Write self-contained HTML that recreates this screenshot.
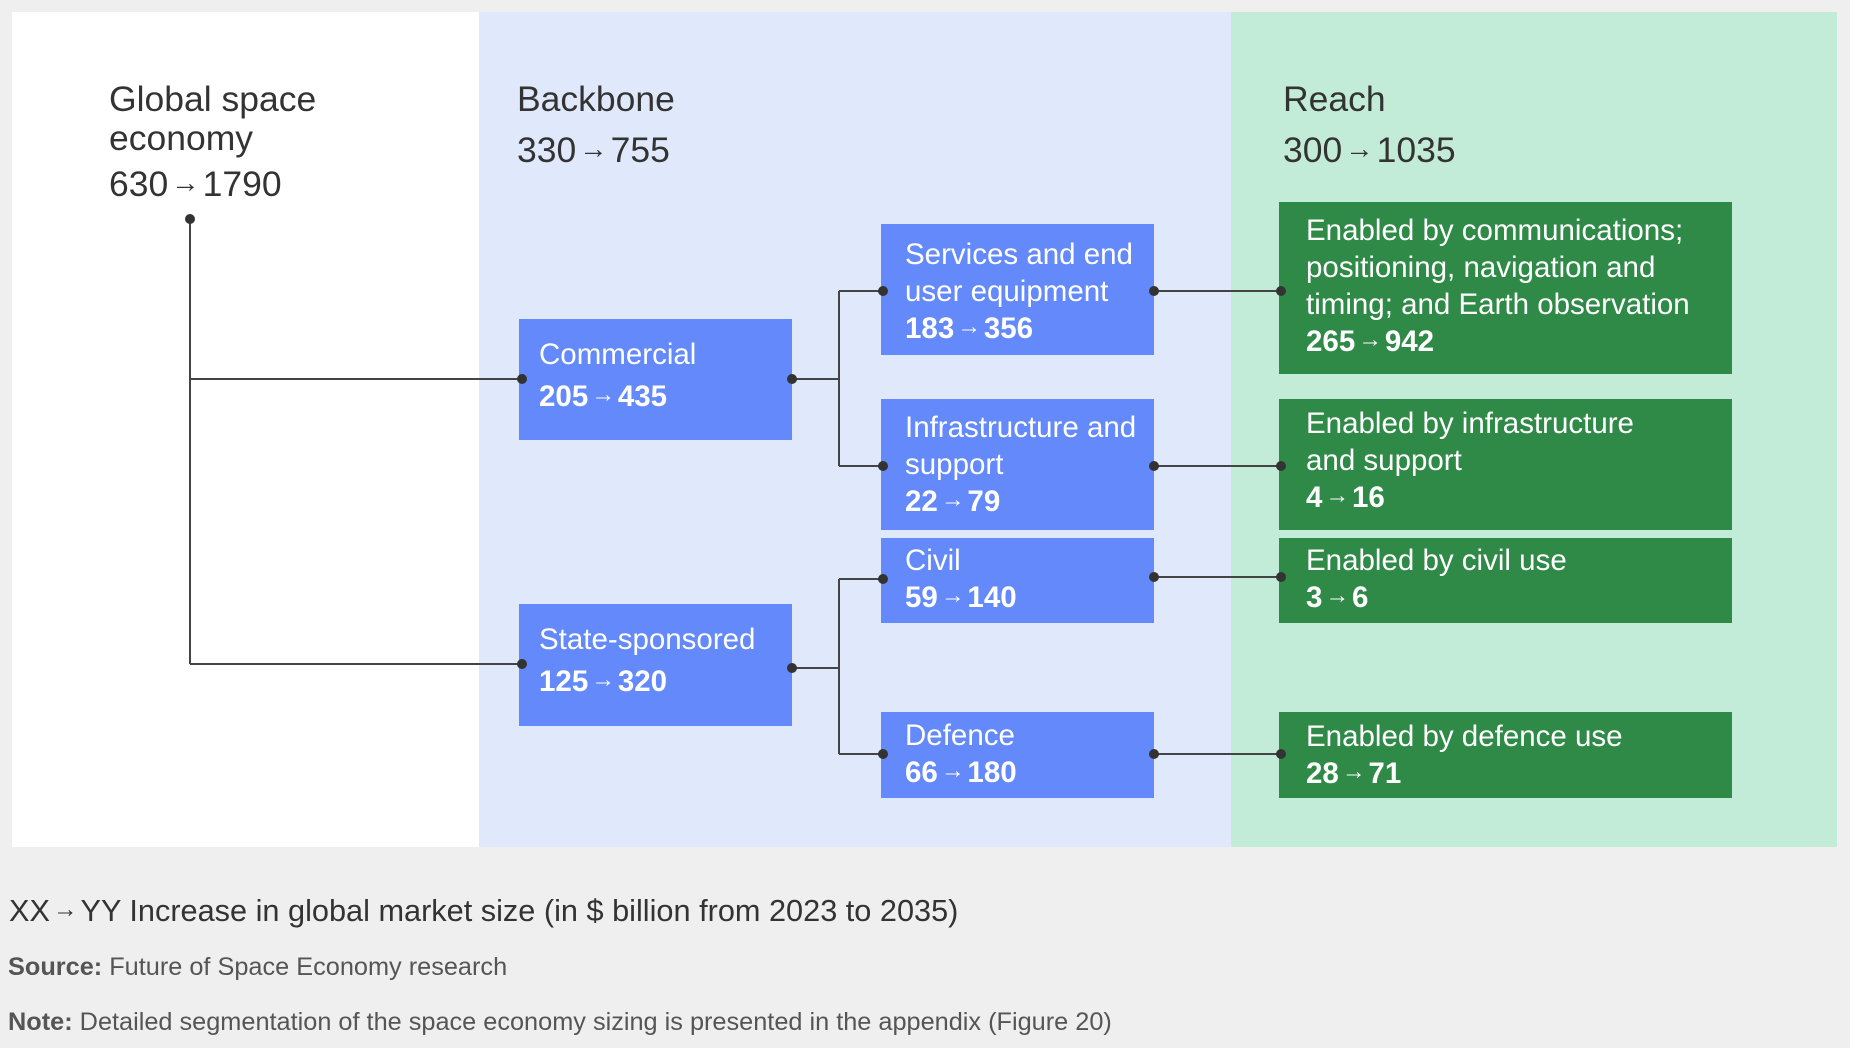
<!DOCTYPE html>
<html><head><meta charset="utf-8"><style>
body{margin:0;width:1850px;height:1048px;background:#efefef;position:relative;overflow:hidden;font-family:"Liberation Sans",sans-serif;}
.a{position:absolute}
.t{color:#333;font-size:35.5px;line-height:39px}
.box{position:absolute;color:#fff;font-size:29.5px;line-height:37px;padding:0 0 0 24px;box-sizing:border-box}
.b{background:#6389fb}
.g{background:#2f8a48}
.n{font-weight:bold}
.ar{font-size:0.8em;font-weight:normal;margin:0 3px;position:relative;top:-4px}
.dot{position:absolute;width:10px;height:10px;border-radius:50%;background:#333;margin:-5px 0 0 -5px}
svg{position:absolute;left:0;top:0}
</style></head><body>
<div class="a" style="left:12px;top:12px;width:467px;height:835px;background:#fff"></div>
<div class="a" style="left:479px;top:12px;width:752px;height:835px;background:#dfe9fb"></div>
<div class="a" style="left:1231px;top:12px;width:606px;height:835px;background:#c3ecd8"></div>

<div class="a t" style="left:109px;top:80px">Global space<br>economy<br><span style="line-height:52px">630<span class="ar">→</span>1790</span></div>
<div class="a t" style="left:517px;top:80px">Backbone<br><span style="line-height:62px">330<span class="ar">→</span>755</span></div>
<div class="a t" style="left:1283px;top:80px">Reach<br><span style="line-height:62px">300<span class="ar">→</span>1035</span></div>

<svg width="1850" height="1048"><g stroke="#444" stroke-width="2" fill="none">
<path d="M190 219V664"/><path d="M190 379H522M190 664H522"/>
<path d="M792 379H839M839 291V466M839 291H883M839 466H883"/>
<path d="M792 668H839M839 579V754M839 579H883M839 754H883"/>
<path d="M1154 291H1281M1154 466H1281M1154 577H1281M1154 754H1281"/>
</g></svg>

<div class="box b" style="left:519px;top:319px;width:273px;height:121px;padding:17px 0 0 20px">Commercial<br><span class="n" style="line-height:48px">205<span class="ar">→</span>435</span></div>
<div class="box b" style="left:519px;top:604px;width:273px;height:122px;padding:17px 0 0 20px">State-sponsored<br><span class="n" style="line-height:48px">125<span class="ar">→</span>320</span></div>

<div class="box b" style="left:881px;top:224px;width:273px;height:131px;padding-top:12px">Services and end<br>user equipment<br><span class="n">183<span class="ar">→</span>356</span></div>
<div class="box b" style="left:881px;top:399px;width:273px;height:131px;padding-top:10px">Infrastructure and<br>support<br><span class="n">22<span class="ar">→</span>79</span></div>
<div class="box b" style="left:881px;top:538px;width:273px;height:85px;padding-top:4px">Civil<br><span class="n">59<span class="ar">→</span>140</span></div>
<div class="box b" style="left:881px;top:712px;width:273px;height:86px;padding-top:5px">Defence<br><span class="n">66<span class="ar">→</span>180</span></div>

<div class="box g" style="left:1279px;top:202px;width:453px;height:172px;padding-top:10px;padding-left:27px">Enabled by communications;<br>positioning, navigation and<br>timing; and Earth observation<br><span class="n">265<span class="ar">→</span>942</span></div>
<div class="box g" style="left:1279px;top:399px;width:453px;height:131px;padding-top:6px;padding-left:27px">Enabled by infrastructure<br>and support<br><span class="n">4<span class="ar">→</span>16</span></div>
<div class="box g" style="left:1279px;top:538px;width:453px;height:85px;padding-top:4px;padding-left:27px">Enabled by civil use<br><span class="n">3<span class="ar">→</span>6</span></div>
<div class="box g" style="left:1279px;top:712px;width:453px;height:86px;padding-top:6px;padding-left:27px">Enabled by defence use<br><span class="n">28<span class="ar">→</span>71</span></div>

<div class="dot" style="left:190px;top:219px"></div>
<div class="dot" style="left:522px;top:379px"></div><div class="dot" style="left:792px;top:379px"></div>
<div class="dot" style="left:522px;top:664px"></div><div class="dot" style="left:792px;top:668px"></div>
<div class="dot" style="left:883px;top:291px"></div><div class="dot" style="left:883px;top:466px"></div>
<div class="dot" style="left:883px;top:579px"></div><div class="dot" style="left:883px;top:754px"></div>
<div class="dot" style="left:1154px;top:291px"></div><div class="dot" style="left:1154px;top:466px"></div>
<div class="dot" style="left:1154px;top:577px"></div><div class="dot" style="left:1154px;top:754px"></div>
<div class="dot" style="left:1281px;top:291px"></div><div class="dot" style="left:1281px;top:466px"></div>
<div class="dot" style="left:1281px;top:577px"></div><div class="dot" style="left:1281px;top:754px"></div>

<div class="a" style="left:9px;top:893px;font-size:30.7px;color:#333">XX<span class="ar">→</span>YY Increase in global market size (in $ billion from 2023 to 2035)</div>
<div class="a" style="left:8px;top:953px;font-size:25.3px;color:#555"><b>Source:</b> Future of Space Economy research</div>
<div class="a" style="left:8px;top:1008px;font-size:25.3px;color:#555"><b>Note:</b> Detailed segmentation of the space economy sizing is presented in the appendix (Figure 20)</div>
</body></html>
